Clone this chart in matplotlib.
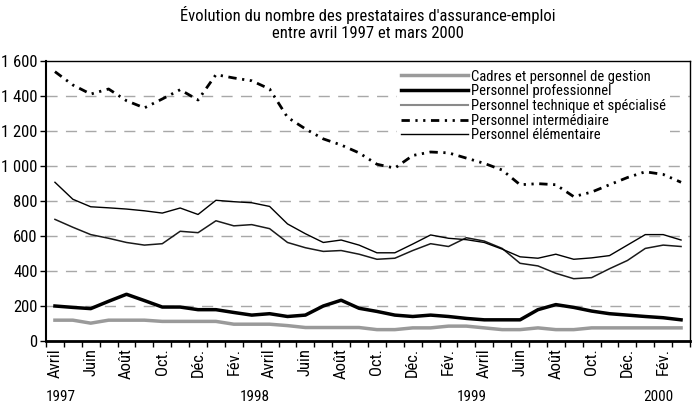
import numpy as np
import matplotlib
matplotlib.use('Agg')
import matplotlib.pyplot as plt
from matplotlib.ticker import FixedLocator, FuncFormatter
from matplotlib.lines import Line2D

plt.rcParams['font.family'] = ['Liberation Sans Narrow', 'DejaVu Sans Condensed', 'Roboto Condensed',
                               'Liberation Sans', 'DejaVu Sans']

# %% Data (avril 1997 - mars 2000)

month_labels = ['Avril', 'Juin', 'Août', 'Oct.', 'Déc.', 'Fév.'] * 3
years = ['1997', '1998', '1999', '2000']
year_pos = [0.35, 11.2, 23.3, 33.75]

cadres = [119, 119, 102, 119, 119, 119, 112, 112, 112, 112, 96, 96, 96, 88, 77, 77, 77, 77,
          65, 65, 75, 75, 85, 85, 75, 65, 65, 75, 65, 65, 75, 75, 75, 75, 75, 75]
professionnel = [200, 192, 185, 227, 267, 231, 194, 194, 179, 179, 163, 148, 156, 140, 148, 200, 233, 187,
                 169, 148, 140, 148, 140, 129, 121, 121, 121, 179, 208, 192, 171, 156, 148, 140, 133, 121]
technique = [695, 650, 608, 587, 563, 548, 556, 627, 619, 687, 658, 665, 642, 563, 533, 512, 517, 496,
             467, 473, 517, 556, 540, 590, 571, 529, 444, 429, 387, 356, 362, 413, 460, 529, 548, 540]
intermediaire = [1539, 1463, 1411, 1440, 1373, 1332, 1383, 1436, 1377, 1522, 1503, 1487, 1440, 1278, 1212, 1155, 1120, 1075,
                 1010, 988, 1060, 1080, 1075, 1045, 1015, 977, 893, 899, 893, 825, 851, 893, 934, 967, 952, 907]
elementaire = [907, 810, 767, 761, 754, 744, 731, 760, 723, 804, 796, 790, 769, 669, 613, 563, 577, 548,
               504, 504, 554, 606, 587, 579, 563, 525, 481, 473, 496, 467, 475, 488, 548, 608, 608, 577]

x = np.arange(len(cadres))

# %% Plot

fig = plt.figure(figsize=(6.94, 4.04), dpi=100)
ax = fig.add_axes([46 / 694, 63 / 404, 644 / 694, 280 / 404])

for yv in range(200, 1600, 200):
    ax.axhline(yv, color='#a8a8a8', lw=1, dashes=(8, 6), zorder=1)

ax.plot(x, cadres, color='#9a9a9a', lw=2.5, zorder=3)
ax.plot(x, professionnel, color='black', lw=2.5, zorder=3)
ax.plot(x, technique, color='#1a1a1a', lw=1.1, zorder=3)
ax.plot(x, intermediaire, color='black', lw=2, dashes=(3, 2, 0.8, 2, 0.8, 2), zorder=3)
ax.plot(x, elementaire, color='black', lw=1, zorder=3)

# legend: gray handle for the technical series
handles = [
    Line2D([], [], color='#9a9a9a', lw=2.5),
    Line2D([], [], color='black', lw=2.5),
    Line2D([], [], color='#8a8a8a', lw=1.5),
    Line2D([], [], color='black', lw=2, dashes=(3, 2, 0.8, 2, 0.8, 2)),
    Line2D([], [], color='black', lw=1),
]
labels = ['Cadres et personnel de gestion', 'Personnel professionnel',
          'Personnel technique et spécialisé', 'Personnel intermédiaire', 'Personnel élémentaire']
leg = ax.legend(handles, labels, loc='upper left', bbox_to_anchor=(0.545, 0.985),
                frameon=True, fontsize=10.5, handlelength=4.6, handletextpad=0.15,
                labelspacing=0.05, borderpad=0.3, borderaxespad=0)
leg.get_frame().set_edgecolor('none')
leg.get_frame().set_facecolor('white')
leg.get_frame().set_alpha(1)
leg.set_zorder(5)

ax.set_xlim(-0.5, len(cadres) - 0.5)
ax.set_ylim(0, 1600)

ax.yaxis.set_major_locator(FixedLocator(range(0, 1601, 200)))
ax.yaxis.set_major_formatter(FuncFormatter(lambda v, p: '{:,}'.format(int(v)).replace(',', ' ')))
ax.tick_params(axis='y', direction='out', length=4, width=1, labelsize=12, pad=2)

ax.set_xticks(np.arange(0, len(cadres), 2))
ax.set_xticklabels(month_labels, rotation=90, fontsize=12)
ax.set_xticks(np.arange(-0.5, len(cadres), 1), minor=True)
ax.tick_params(axis='x', which='major', length=0, pad=5)
ax.tick_params(axis='x', which='minor', direction='out', length=4, width=1)

for sp in ['top', 'right', 'left']:
    ax.spines[sp].set_linewidth(1)
    ax.spines[sp].set_zorder(6)
ax.spines['left'].set_linewidth(1.5)
ax.spines['bottom'].set_linewidth(2)

for yr, xp in zip(years, year_pos):
    ax.text(xp, -0.2, yr, transform=ax.get_xaxis_transform(), ha='center', va='center', fontsize=11)

fig.text(368 / 694, 1 - 15 / 404, "Évolution du nombre des prestataires d'assurance-emploi",
         ha='center', va='center', fontsize=12)
fig.text(368 / 694, 1 - 34 / 404, 'entre avril 1997 et mars 2000',
         ha='center', va='center', fontsize=12)

plt.savefig('out.png', dpi=100, facecolor='white')
